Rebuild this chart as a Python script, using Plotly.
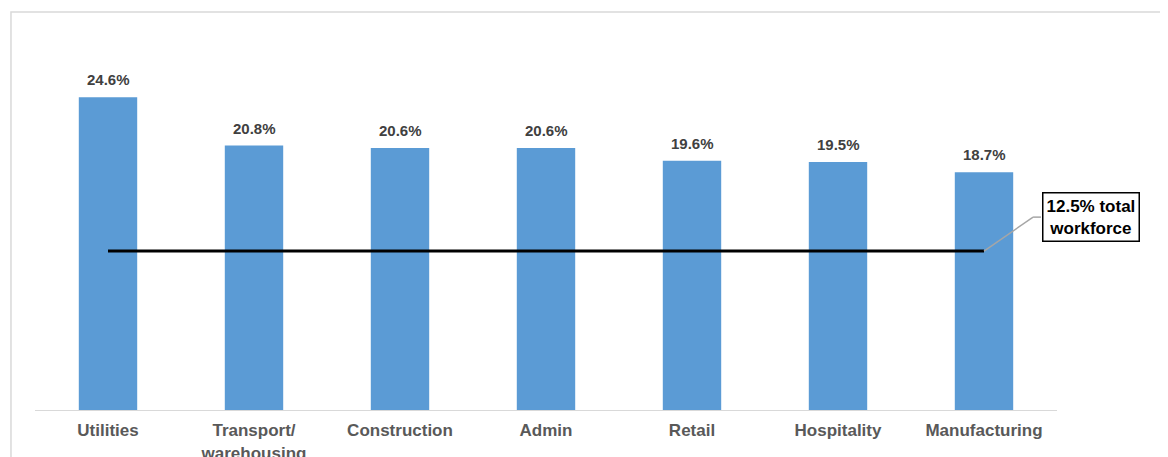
import plotly.graph_objects as go

categories = ["Utilities", "Transport/<br>warehousing", "Construction", "Admin",
              "Retail", "Hospitality", "Manufacturing"]
shares = [24.6, 20.8, 20.6, 20.6, 19.6, 19.5, 18.7]
total_workforce = 12.5
value_labels = [f"{v:.1f}%" for v in shares]
callout_text = f"{total_workforce:.1f}% total<br>workforce"

FONT = "Liberation Sans, Arial, sans-serif"

fig = go.Figure()
fig.add_trace(go.Bar(
    x=categories, y=shares,
    marker=dict(color="#5b9bd5", line=dict(width=0)),
    hoverinfo="skip", width=0.4,
))
fig.add_trace(go.Scatter(
    x=categories, y=[total_workforce] * len(categories), mode="lines",
    line=dict(color="black", width=3), hoverinfo="skip",
))

for c, v, lbl in zip(categories, shares, value_labels):
    fig.add_annotation(x=c, y=v, text=f"<b>{lbl}</b>", showarrow=False,
                       xanchor="center", yanchor="bottom", yshift=7,
                       font=dict(family=FONT, size=15, color="#404040"))

fig.update_layout(
    width=1160, height=449,
    margin=dict(l=27, r=111, t=46, b=47, autoexpand=False),
    paper_bgcolor="white", plot_bgcolor="white",
    showlegend=False,
    font=dict(family=FONT),
    xaxis=dict(range=[-0.5, 6.5], showline=True, linecolor="#d9d9d9", linewidth=1,
               showgrid=False, zeroline=False, ticks="outside", ticklen=5,
               tickcolor="rgba(0,0,0,0)", automargin=False,
               tickvals=categories, ticktext=[f"<b>{c}</b>" for c in categories],
               tickfont=dict(family=FONT, size=17, color="#595959")),
    yaxis=dict(range=[0, 28], visible=False, showgrid=False, zeroline=False,
               automargin=False),
)

# outer frame
fig.add_shape(type="rect", xref="paper", yref="paper",
              x0=-0.0235, x1=1.25, y0=-0.3, y1=1.118,
              line=dict(color="#d9d9d9", width=1.5), fillcolor="rgba(0,0,0,0)", layer="below")

# leader line
fig.add_shape(type="line", xref="x", yref="y", x0=6, y0=total_workforce, x1=6.336, y1=15.17,
              line=dict(color="#a6a6a6", width=1.5))
fig.add_shape(type="line", xref="x", yref="y", x0=6.336, y0=15.17, x1=6.39, y1=15.17,
              line=dict(color="#a6a6a6", width=1.5))

fig.add_annotation(xref="paper", yref="paper", x=1.0333, y=0.5435,
                   xanchor="center", yanchor="middle",
                   text=f"<b>{callout_text}</b>", showarrow=False,
                   font=dict(family=FONT, size=17, color="black"),
                   bordercolor="black", borderwidth=1.5, borderpad=3,
                   bgcolor="white", align="center")

fig.write_html("out.html")
